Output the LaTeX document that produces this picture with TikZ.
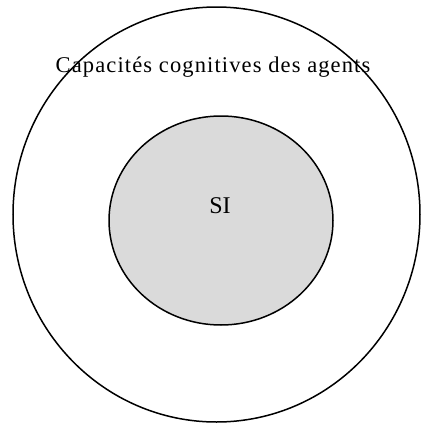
\documentclass[tikz,border=0pt]{standalone}
\usepackage{fontspec}
\setmainfont{Liberation Serif}
\newfontfamily\spacedserif[LetterSpace=5]{Liberation Serif}
\usetikzlibrary{shapes.geometric}
\definecolor{sigray}{RGB}{218,218,218}
\begin{document}
\begin{tikzpicture}[x=1pt,y=-1pt,
  ring/.style={draw=black,line width=1.5pt,ellipse,inner sep=0pt},
  lbl/.style={inner sep=0pt}]
\useasboundingbox[fill=white] (0,0) rectangle (421,424);
\node[ring,minimum width=407pt,minimum height=415pt] (outer) at (216.5,214.5) {};
\node[ring,fill=sigray,minimum width=224pt,minimum height=209pt] (inner) at (221,220.5) {};
\node[lbl,anchor=base,font=\spacedserif\fontsize{22.5}{26}\selectfont] (cap) at (213,72) {Capacités cognitives des agents};
\node[lbl,anchor=base,font=\fontsize{24}{28}\selectfont] (si) at (220,213) {SI};
\end{tikzpicture}
\end{document}
